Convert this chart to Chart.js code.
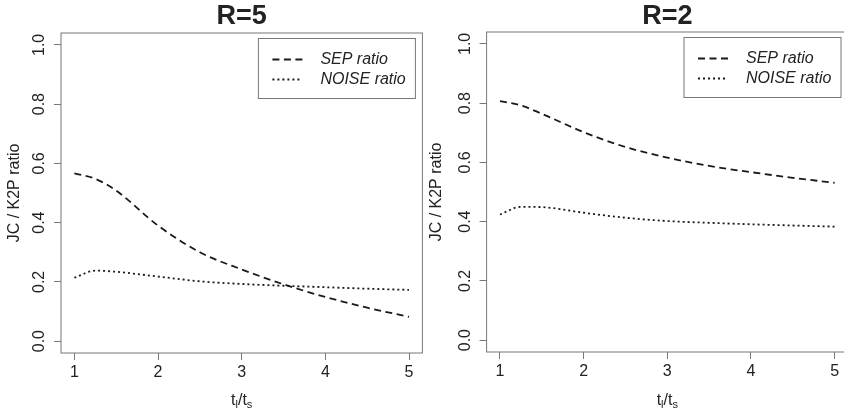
<!DOCTYPE html>
<html>
<head>
<meta charset="utf-8">
<script src="https://cdn.jsdelivr.net/npm/chart.js@4.4.1/dist/chart.umd.min.js"></script>
<style>
  html, body { margin: 0; padding: 0; background: #fff; overflow: hidden; width: 844px; height: 409px; }
  canvas { position: absolute; top: 0; }
  #leftChart { left: 0; }
  #rightChart { left: 422px; }
</style>
</head>
<body>
<canvas id="leftChart" width="424" height="409"></canvas>
<canvas id="rightChart" width="430" height="409"></canvas>
<script>
// Data
const ratioX = [1, 1.25, 1.5, 2, 2.5, 3, 3.5, 4, 4.5, 5];
const sepR5 = [0.566, 0.548, 0.508, 0.390, 0.300, 0.242, 0.192, 0.149, 0.113, 0.082];
const noiseR5 = [0.214, 0.238, 0.234, 0.218, 0.202, 0.193, 0.187, 0.182, 0.177, 0.173];
const sepR2 = [0.807, 0.792, 0.764, 0.702, 0.652, 0.616, 0.588, 0.567, 0.548, 0.531];
const noiseR2 = [0.424, 0.450, 0.449, 0.430, 0.413, 0.402, 0.396, 0.391, 0.387, 0.383];
const xTicks = [1, 2, 3, 4, 5];
const yTicks = [0, 0.2, 0.4, 0.6, 0.8, 1.0];
const legendLabels = ['SEP ratio', 'NOISE ratio'];
const panelTitles = ['R=5', 'R=2'];
const yTitle = 'JC / K2P ratio';

const FONT = '"Liberation Sans", Arial, Helvetica, sans-serif';
const textColor = '#222';
const boxColor = '#777';
const lineColor = '#1a1a1a';
const sepDash = [7, 4.5];
const noiseDash = [2, 3];

// R-like decorations: box, main title, x title with subscripts, legend
const rStyle = {
    id: 'rStyle',
    afterDraw(chart, args, opts) {
        const { ctx, chartArea: a } = chart;
        ctx.save();

        ctx.strokeStyle = boxColor;
        ctx.lineWidth = 1;
        ctx.setLineDash([]);
        ctx.strokeRect(a.left, a.top, a.right - a.left, a.bottom - a.top);

        // title
        const cx = (a.left + a.right) / 2;
        ctx.fillStyle = textColor;
        ctx.font = 'bold 27px ' + FONT;
        ctx.textAlign = 'center';
        ctx.textBaseline = 'middle';
        ctx.fillText(opts.title, cx, 17);

        // x axis title: t_l / t_s
        const parts = [['t', 16, 0], ['l', 11, 3], ['/', 16, 0], ['t', 16, 0], ['s', 11, 3]];
        ctx.textAlign = 'left';
        ctx.textBaseline = 'alphabetic';
        let total = 0;
        parts.forEach(p => { ctx.font = p[1] + 'px ' + FONT; total += ctx.measureText(p[0]).width; });
        let px = cx - total / 2;
        parts.forEach(p => {
            ctx.font = p[1] + 'px ' + FONT;
            ctx.fillText(p[0], px, 405 + p[2]);
            px += ctx.measureText(p[0]).width;
        });

        // legend
        const bw = 157, bh = 60;
        const bx = a.right - 7 - bw, by = a.top + 5.5;
        ctx.fillStyle = '#fff';
        ctx.fillRect(bx, by, bw, bh);
        ctx.strokeStyle = boxColor;
        ctx.strokeRect(bx, by, bw, bh);
        const dashes = [sepDash, noiseDash];
        legendLabels.forEach((lab, i) => {
            const ly = by + 21 + i * 20;
            ctx.strokeStyle = lineColor;
            ctx.lineWidth = 1.8;
            ctx.setLineDash(dashes[i]);
            ctx.beginPath();
            ctx.moveTo(bx + 14, ly);
            ctx.lineTo(bx + 44, ly);
            ctx.stroke();
            ctx.setLineDash([]);
            ctx.fillStyle = textColor;
            ctx.font = 'italic 16px ' + FONT;
            ctx.textBaseline = 'middle';
            ctx.fillText(lab, bx + 62, ly);
        });

        ctx.restore();
    }
};

function makePanel(id, title, sep, noise, frame) {
    new Chart(document.getElementById(id).getContext('2d'), {
        type: 'line',
        data: {
            datasets: [
                {
                    label: legendLabels[0],
                    data: ratioX.map((x, i) => ({ x: x, y: sep[i] })),
                    borderColor: lineColor, borderWidth: 1.8, borderDash: sepDash,
                    pointRadius: 0, fill: false, cubicInterpolationMode: 'monotone'
                },
                {
                    label: legendLabels[1],
                    data: ratioX.map((x, i) => ({ x: x, y: noise[i] })),
                    borderColor: lineColor, borderWidth: 1.8, borderDash: noiseDash,
                    pointRadius: 0, fill: false, cubicInterpolationMode: 'monotone'
                }
            ]
        },
        options: {
            responsive: false,
            animation: false,
            layout: { padding: { top: frame.top, right: frame.padRight, left: 0, bottom: 0 } },
            plugins: {
                legend: { display: false },
                tooltip: { enabled: false },
                rStyle: { title: title }
            },
            scales: {
                x: {
                    type: 'linear',
                    min: 0.84, max: 5.16,
                    afterBuildTicks: s => { s.ticks = xTicks.map(v => ({ value: v })); },
                    afterFit: s => { s.height = frame.bottomH; },
                    grid: { drawOnChartArea: false, drawTicks: true, tickLength: 7, color: boxColor },
                    border: { display: false },
                    ticks: {
                        color: textColor, padding: 3, maxRotation: 0,
                        font: { family: FONT, size: 16 },
                        callback: v => String(v)
                    }
                },
                y: {
                    type: 'linear',
                    min: -0.04, max: 1.04,
                    afterBuildTicks: s => { s.ticks = yTicks.map(v => ({ value: v })); },
                    afterFit: s => { s.width = frame.leftW; },
                    grid: { drawOnChartArea: false, drawTicks: true, tickLength: 7, color: boxColor },
                    border: { display: false },
                    title: {
                        display: true, text: yTitle, color: textColor,
                        font: { family: FONT, size: 16 },
                        padding: { top: 5, bottom: 0 }
                    },
                    ticks: {
                        color: textColor, padding: 3,
                        minRotation: 90, maxRotation: 90, crossAlign: 'center',
                        font: { family: FONT, size: 16 },
                        callback: v => Number(v).toFixed(1)
                    }
                }
            }
        },
        plugins: [rStyle]
    });
}

makePanel('leftChart', panelTitles[0], sepR5, noiseR5, { top: 33, padRight: 1.6, bottomH: 56, leftW: 61 });
makePanel('rightChart', panelTitles[1], sepR2, noiseR2, { top: 32, padRight: 4, bottomH: 57, leftW: 64.6 });
</script>
</body>
</html>
